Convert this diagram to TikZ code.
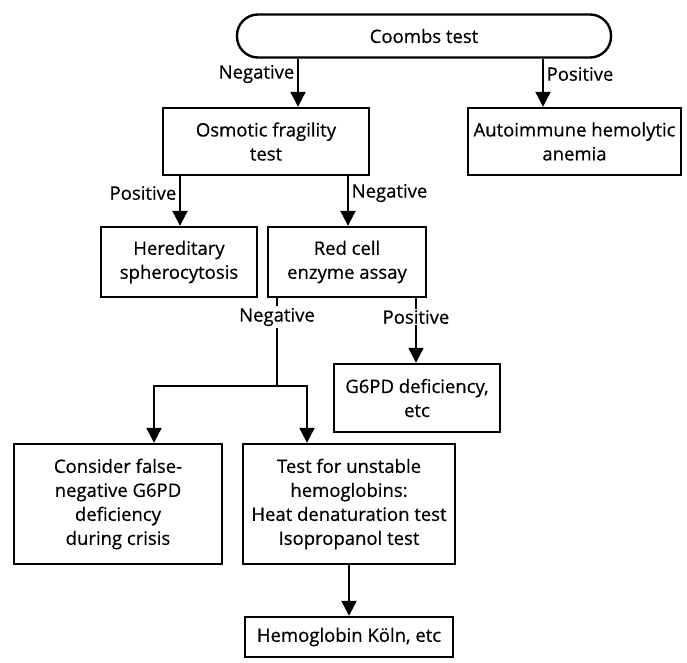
\documentclass[tikz,border=0pt]{standalone}
\usepackage{fontspec}
\setmainfont{Open Sans}[FakeBold=0.5]
\usetikzlibrary{arrows.meta,positioning}
\begin{document}
\begin{tikzpicture}
  [x=1pt,y=-1pt,
   box/.style={draw,line width=2.4pt,align=center,inner sep=0pt,font=\fontsize{18.5}{24}\selectfont},
   lbl/.style={font=\fontsize{18.5}{20}\selectfont,inner sep=1.5pt},
   arr/.style={line width=2.2pt,-{Triangle[length=15pt,width=15pt]}},
   link/.style={line width=2.2pt}]
  \useasboundingbox (0,0) rectangle (687,662);
  % boxes
  \node (coombs) at (424,36) [box,rounded corners=21pt,minimum width=374pt,minimum height=43pt] {Coombs test};
  \node (osmotic) at (266,141.5) [box,minimum width=206pt,minimum height=67pt] {Osmotic fragility\\test};
  \node (aiha) at (574.5,141.5) [box,minimum width=213pt,minimum height=67pt] {Autoimmune hemolytic\\anemia};
  \node (hs) at (179,262) [box,minimum width=156pt,minimum height=70pt] {Hereditary\\spherocytosis};
  \node (enzyme) at (347,262) [box,minimum width=158pt,minimum height=70pt] {Red cell\\enzyme assay};
  \node (gpd) at (417,398) [box,minimum width=166pt,minimum height=68pt] {G6PD deficiency,\\etc};
  \node (falseneg) at (118,504) [box,minimum width=208pt,minimum height=120pt] {Consider false-\\negative G6PD\\deficiency\\during crisis};
  \node (unstable) at (349,504) [box,minimum width=212pt,minimum height=120pt] {Test for unstable\\hemoglobins:\\Heat denaturation test\\Isopropanol test};
  \node (koln) at (349,637) [box,minimum width=208pt,minimum height=40pt] {Hemoglobin K\"oln, etc};
  % columns of the connectors
  \coordinate (xa) at (298,0);
  \coordinate (xb) at (543,0);
  \coordinate (xc) at (180,0);
  \coordinate (xd) at (348,0);
  \coordinate (xe) at (277,0);
  \coordinate (xf) at (416,0);
  \coordinate (split) at (277,386);
  \coordinate (left) at (154,386);
  \coordinate (right) at (307,386);
  % connectors
  \draw[arr] (xa |- coombs.south) -- (xa |- osmotic.north);
  \draw[arr] (xb |- coombs.south) -- (xb |- aiha.north);
  \draw[arr] (xc |- osmotic.south) -- (xc |- hs.north);
  \draw[arr] (xd |- osmotic.south) -- (xd |- enzyme.north);
  \draw[link] (xe |- enzyme.south) -- (split);
  \draw[arr] (xf |- enzyme.south) -- (xf |- gpd.north);
  \draw[link,line cap=rect] (left) -- (right);
  \draw[arr] (left) -- (left |- falseneg.north);
  \draw[arr] (right) -- (right |- unstable.north);
  \draw[arr] (unstable.south) -- (koln.north);
  % labels
  \node (neg1) at (296,74) [lbl,anchor=east] {Negative};
  \node (pos1) at (545,74) [lbl,anchor=west] {Positive};
  \node (pos2) at (178,193) [lbl,anchor=east] {Positive};
  \node (neg2) at (350,193) [lbl,anchor=west] {Negative};
  \node (neg3) at (277,317) [lbl,fill=white] {Negative};
  \node (pos3) at (416,317) [lbl,fill=white] {Positive};
\end{tikzpicture}
\end{document}
